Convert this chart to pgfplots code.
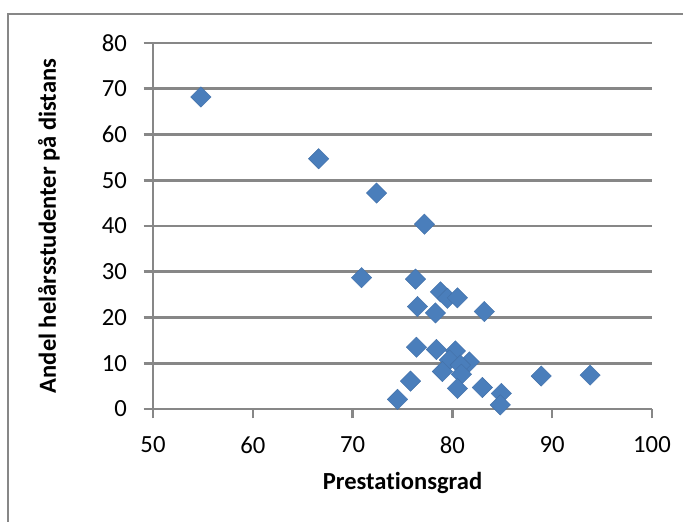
\documentclass[border=0pt]{standalone}
\usepackage{fontspec}
\setmainfont{Carlito}[Ligatures=NoCommon]
\usepackage{pgfplots}
\pgfplotsset{compat=1.18}
\definecolor{gridgray}{HTML}{878787}
\definecolor{markblue}{HTML}{4A7EBB}
\begin{document}
\begin{tikzpicture}
\path[use as bounding box] (0,0) rectangle (512.25pt,391.5pt);
\draw[gridgray,line width=1.1pt] (6pt,-20pt) -- (6pt,381pt) -- (530pt,381pt);
\begin{axis}[
  at={(114.75pt,84.75pt)}, anchor=south west,
  scale only axis, width=374.25pt, height=274.5pt,
  xmin=50, xmax=100, ymin=0, ymax=80,
  xtick={50,60,...,100}, ytick={0,10,...,80},
  axis x line*=bottom, axis y line*=left,
  axis line style={gridgray,line width=1.9pt,-},
  ymajorgrids, major grid style={gridgray,line width=1.9pt},
  tick align=outside, major tick length=7pt,
  tick style={gridgray,line width=1.9pt},
  /pgf/number format/assume math mode=true,
  tick label style={font=\fontsize{18.5}{20}\selectfont, black},
  yticklabel style={xshift=-9pt},
  xticklabel style={yshift=-10pt},
  every axis x label/.style={at={(axis description cs:0.5,-0.2022)}, anchor=center},
  every axis y label/.style={at={(axis description cs:-0.2084,0.5)}, anchor=center, rotate=90},
  label style={font=\fontsize{18.4}{20}\selectfont\bfseries},
  xlabel={Prestationsgrad},
  ylabel={Andel helårsstudenter på distans},
  clip=false,
]
\addplot[only marks, mark=square*, mark size=5.4pt,
  mark options={rotate=45, fill=markblue, draw=markblue!90!black, line width=0.3pt}]
coordinates {
(54.8,68.2) (66.6,54.7) (72.4,47.2) (77.2,40.4)
(70.9,28.7) (76.3,28.4) (78.8,25.6) (79.5,24.2) (80.5,24.3)
(76.5,22.4) (78.3,21.0) (83.2,21.3)
(76.4,13.5) (78.4,13.0) (80.3,12.7) (79.7,10.7) (81.7,10.3)
(80.8,9.6) (79.0,8.2) (80.9,7.6) (80.5,4.5) (75.8,6.1)
(74.5,2.1) (83.0,4.7) (84.9,3.4) (84.8,0.9) (88.9,7.2) (93.8,7.4)
};
\end{axis}
\end{tikzpicture}
\end{document}
